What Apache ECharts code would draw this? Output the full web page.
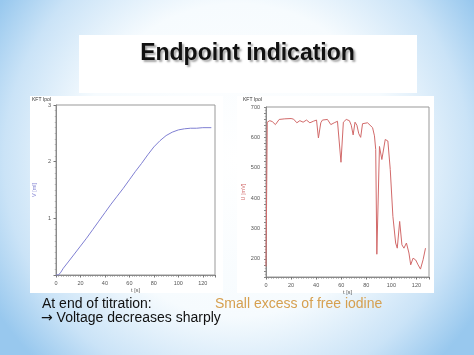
<!DOCTYPE html>
<html><head><meta charset="utf-8">
<script src="https://cdn.jsdelivr.net/npm/echarts@6/dist/echarts.min.js"></script>
<style>html,body{margin:0;padding:0;overflow:hidden;}#c{width:474px;height:355px;}</style>
</head><body><div id="c"></div>
<script>
// ---- Data ----
const titleText = 'Endpoint indication';
const panelTitle = 'KFT Ipol';
const xAxisName = 't [s]';
const leftYName = 'V [ml]';
const rightYName = 'U [mV]';
const noteLine1 = 'At end of titration:';
const noteArrow = '\u2192';
const noteLine2 = ' Voltage decreases sharply';
const noteRight = 'Small excess of free iodine';

// Left chart: titrant volume V [ml] vs time t [s]
const leftT = [0, 2, 4, 6, 10, 15, 20, 25, 30, 35, 40, 45, 50, 55, 60, 65, 70, 75, 80, 85, 90, 95, 100, 105, 110, 115, 120, 127];
const leftV = [0, 0, 0.05, 0.12, 0.23, 0.37, 0.51, 0.65, 0.80, 0.95, 1.10, 1.25, 1.39, 1.53, 1.68, 1.83, 1.97, 2.12, 2.26, 2.37, 2.46, 2.52, 2.56, 2.58, 2.59, 2.59, 2.6, 2.6];

// Right chart: indicator voltage U [mV] vs time t [s]
const rightT = [0, 1, 3, 5, 7.5, 10.5, 15, 20, 22, 24.6, 27, 29.6, 32.3, 35, 37.7, 40.3, 41.8, 43.7, 45, 49, 51.7, 54.4, 57, 58.5, 59.8, 61.7, 64, 66.5, 68, 69.5, 71, 72.5, 74, 75.5, 77, 78.5, 81, 83, 85, 86.5, 87.5, 88.4, 90.5, 92.4, 95.1, 97.2, 99.1, 101.2, 103.4, 104.7, 106.6, 108.4, 110, 112, 114, 115.4, 117.3, 119.4, 121.3, 123.2, 125.3, 127.2];
const rightU = [175, 650, 655, 652, 642, 659, 661, 662, 660, 648, 655, 650, 657, 648, 653, 657, 598, 648, 657, 659, 642, 648, 653, 650, 518, 650, 659, 655, 640, 608, 650, 640, 612, 600, 645, 650, 648, 640, 632, 605, 560, 215, 570, 527, 593, 588, 494, 340, 252, 235, 323, 246, 235, 252, 219, 180, 202, 196, 180, 166, 197, 235];

const xMax = 130, xStep = 20, xLastLabel = 120;
const leftYMax = 3, leftYStep = 1;
const rightYMin = 140, rightYMax = 700, rightYStep = 20, rightLabelStep = 100;

const leftColor = '#7f7fd2';
const rightColor = '#d26a6a';
const labelStyle = { fontSize: 5.5, color: '#555', fontFamily: 'Liberation Sans' };
const axisLineStyle = { lineStyle: { color: '#8a8a8a', width: 1 } };

function xAxis(gridIndex) {
  return {
    gridIndex, type: 'value', min: 0, max: xMax, interval: xStep,
    name: xAxisName, nameLocation: 'middle', nameGap: 12,
    nameTextStyle: { fontSize: 5.5, color: '#555', fontFamily: 'Liberation Sans' },
    axisLine: axisLineStyle,
    axisTick: { show: true, length: 2.5, lineStyle: { color: '#777' } },
    minorTick: { show: true, splitNumber: 10, length: 1.5, lineStyle: { color: '#888' } },
    splitLine: { show: false },
    axisLabel: Object.assign({ margin: 5, showMaxLabel: false, formatter: v => (v > xLastLabel ? '' : String(v)) }, labelStyle)
  };
}

const option = {
  animation: false,
  backgroundColor: {
    type: 'radial', x: 0.5, y: 0.45, r: 0.8,
    colorStops: [
      { offset: 0, color: '#ffffff' },
      { offset: 0.55, color: '#f6fbfe' },
      { offset: 0.82, color: '#cae3f7' },
      { offset: 1, color: '#98c8ee' }
    ]
  },
  graphic: [
    { type: 'rect', z: -10, shape: { x: 79, y: 35, width: 338, height: 58 }, style: { fill: '#ffffff' } },
    { type: 'rect', z: -10, shape: { x: 30, y: 96, width: 193, height: 197 }, style: { fill: '#ffffff' } },
    { type: 'rect', z: -10, shape: { x: 237, y: 96, width: 197, height: 197 }, style: { fill: '#ffffff' } },
    { type: 'text', x: 32, y: 100, style: { text: panelTitle, fontSize: 5, fill: '#333', fontFamily: 'Liberation Sans', verticalAlign: 'middle' } },
    { type: 'text', x: 243, y: 100, style: { text: panelTitle, fontSize: 5, fill: '#333', fontFamily: 'Liberation Sans', verticalAlign: 'middle' } },
    { type: 'text', x: 247.5, y: 54, style: { text: titleText, fontSize: 23, fontWeight: 'bold', fill: '#111', fontFamily: 'Liberation Sans', align: 'center', verticalAlign: 'middle', textShadowColor: 'rgba(0,0,0,0.35)', textShadowOffsetX: 2, textShadowOffsetY: 2, textShadowBlur: 2 } },
    { type: 'text', x: 42, y: 304.5, style: { text: noteLine1, fontSize: 14, fill: '#111', fontFamily: 'Liberation Sans', verticalAlign: 'middle' } },
    { type: 'text', x: 41, y: 318.5, style: {
        text: '{a|' + noteArrow + '}' + noteLine2, fontSize: 14, fill: '#111', fontFamily: 'Liberation Sans', verticalAlign: 'middle',
        rich: { a: { fontSize: 14, fontFamily: 'DejaVu Sans', fill: '#111' } } } },
    { type: 'text', x: 215, y: 304.5, style: { text: noteRight, fontSize: 14, fill: '#d6a050', fontFamily: 'Liberation Sans', verticalAlign: 'middle' } }
  ],
  grid: [
    { left: 56, width: 159, top: 105, height: 170, show: true, borderColor: '#999', borderWidth: 1, backgroundColor: 'transparent' },
    { left: 266, width: 163, top: 107, height: 170, show: true, borderColor: '#999', borderWidth: 1, backgroundColor: 'transparent' }
  ],
  xAxis: [xAxis(0), xAxis(1)],
  yAxis: [
    {
      gridIndex: 0, type: 'value', min: 0, max: leftYMax, interval: leftYStep,
      name: leftYName, nameLocation: 'middle', nameGap: 19,
      nameTextStyle: { fontSize: 5.5, color: leftColor, fontFamily: 'Liberation Sans' },
      axisLine: axisLineStyle,
      axisTick: { show: true, length: 2.5, lineStyle: { color: '#777' } },
      minorTick: { show: true, splitNumber: 10, length: 1.2, lineStyle: { color: '#aaa' } },
      splitLine: { show: false },
      axisLabel: Object.assign({ margin: 5, formatter: v => (v === 0 ? '' : String(v)) }, labelStyle)
    },
    {
      gridIndex: 1, type: 'value', min: rightYMin, max: rightYMax, interval: rightYStep,
      name: rightYName, nameLocation: 'middle', nameGap: 18,
      nameTextStyle: { fontSize: 5.5, color: rightColor, fontFamily: 'Liberation Sans' },
      axisLine: axisLineStyle,
      axisTick: { show: true, length: 2, lineStyle: { color: '#888' } },
      minorTick: { show: true, splitNumber: 2, length: 1.2, lineStyle: { color: '#aaa' } },
      splitLine: { show: false },
      axisLabel: Object.assign({ margin: 6, formatter: v => (v % rightLabelStep === 0 ? String(v) : '') }, labelStyle)
    }
  ],
  series: [
    {
      type: 'line', xAxisIndex: 0, yAxisIndex: 0, showSymbol: false, silent: true,
      data: leftT.map((t, i) => [t, leftV[i]]),
      lineStyle: { color: leftColor, width: 1 }, itemStyle: { color: leftColor }
    },
    {
      type: 'line', xAxisIndex: 1, yAxisIndex: 1, showSymbol: false, silent: true,
      data: rightT.map((t, i) => [t, rightU[i]]),
      lineStyle: { color: rightColor, width: 1 }, itemStyle: { color: rightColor }
    }
  ]
};
const chart = echarts.init(document.getElementById('c'), null, { renderer: 'canvas' });
chart.setOption(option);
</script>
</body></html>
